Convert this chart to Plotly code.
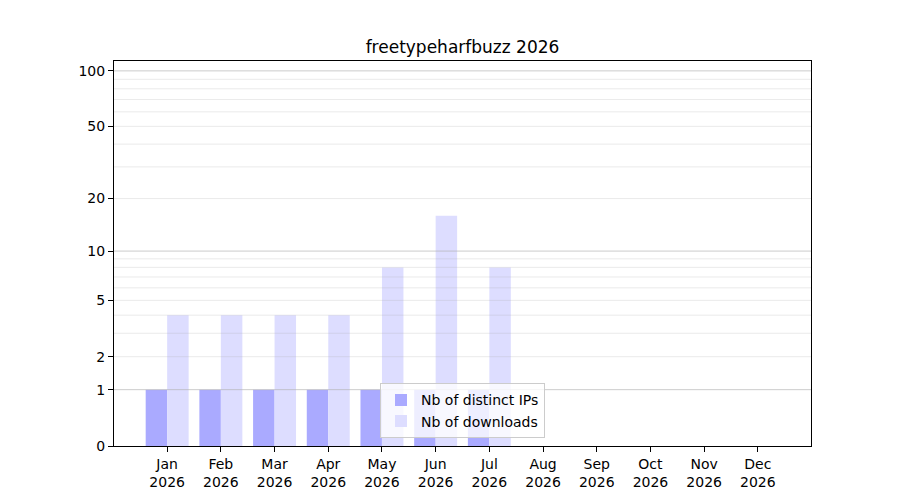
import plotly.graph_objects as go

# monthly stats
months = ["Jan", "Feb", "Mar", "Apr", "May", "Jun", "Jul", "Aug", "Sep", "Oct", "Nov", "Dec"]
year = "2026"
distinct_ips = [1, 1, 1, 1, 1, 1, 1, 0, 0, 0, 0, 0]
downloads = [4, 4, 4, 4, 8, 16, 8, 0, 0, 0, 0, 0]

# y axis is log(1 + n)
y_ticks = [0, 1, 2, 5, 10, 20, 50, 100]
major_grid = [1, 10, 100]
minor_grid = [2, 3, 4, 5, 6, 7, 8, 9, 20, 30, 40, 50, 60, 70, 80, 90]

x_labels = [m + "<br>" + year for m in months]
font = "DejaVu Sans, sans-serif"

fig = go.Figure()
fig.add_trace(go.Bar(
    x=x_labels, y=[v + 1 for v in distinct_ips],
    name="Nb of distinct IPs", marker_color="#aaaaff", marker_line_width=0,
))
fig.add_trace(go.Bar(
    x=x_labels, y=[v + 1 for v in downloads],
    name="Nb of downloads", marker_color="#ddddff", marker_line_width=0,
))

# matplotlib draws the grid over the bars, so use shapes on the top layer
for g in minor_grid:
    fig.add_shape(type="line", xref="paper", x0=0, x1=1, yref="y", y0=g + 1, y1=g + 1,
                  line=dict(color="rgba(176,176,176,0.25)", width=1), layer="above")
for g in major_grid:
    fig.add_shape(type="line", xref="paper", x0=0, x1=1, yref="y", y0=g + 1, y1=g + 1,
                  line=dict(color="rgba(176,176,176,0.65)", width=1), layer="above")

fig.update_layout(
    width=900, height=500,
    margin=dict(l=106, r=97, t=53, b=62),
    paper_bgcolor="white", plot_bgcolor="white",
    font=dict(family=font, size=14, color="black"),
    title=dict(text="freetypeharfbuzz 2026", xref="paper", x=0.5, xanchor="center",
               y=0.922, yanchor="middle", font=dict(size=17)),
    barmode="group", bargap=0.2, bargroupgap=0,
    showlegend=True,
    legend=dict(x=0.5, y=0.02, xanchor="center", yanchor="bottom",
                bgcolor="rgba(255,255,255,0.8)", bordercolor="#cccccc", borderwidth=1,
                font=dict(size=14)),
    xaxis=dict(
        type="category", range=[-0.99, 11.99],
        showline=True, linecolor="black", linewidth=1, mirror=True,
        ticks="outside", ticklen=5, tickcolor="black", showgrid=False,
    ),
    yaxis=dict(
        type="log", range=[0, 2.057],
        tickvals=[t + 1 for t in y_ticks], ticktext=[str(t) for t in y_ticks],
        showline=True, linecolor="black", linewidth=1, mirror=True,
        ticks="outside", ticklen=5, tickcolor="black", showgrid=False, zeroline=False,
    ),
)

fig.write_html("out.html")
